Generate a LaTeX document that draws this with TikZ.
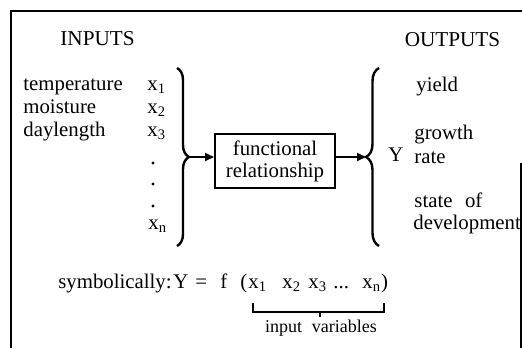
\documentclass[tikz,border=0pt]{standalone}
\usepackage{fontspec}
\setmainfont{Liberation Serif}
\usetikzlibrary{arrows.meta,decorations.pathreplacing}
\begin{document}
\begin{tikzpicture}[x=0.5pt,y=-0.5pt,
  txt/.style={anchor=base west,inner sep=0pt,font=\fontsize{10.4}{12}\selectfont},
  head/.style={inner sep=0pt,font=\fontsize{10.6}{12}\selectfont},
  small/.style={inner sep=0pt,anchor=base,font=\fontsize{9}{11}\selectfont},
  bracestyle/.style={decorate,decoration={brace,amplitude=#1},line width=1.2pt},
  arr/.style={-{Triangle[length=4.5pt,width=4pt]},line width=1pt},
  fbox/.style={draw,line width=1pt,minimum width=60pt,minimum height=27pt,align=center,inner sep=0pt,font=\fontsize{10.4}{11}\selectfont},
  dotmark/.style={circle,fill,inner sep=0pt,minimum size=1.6pt}
]
\useasboundingbox (0,0) rectangle (522,348);
% frame
\draw[line width=1pt] (11,348) -- (11,11) -- (522,11);
\draw[line width=1pt] (520.5,163) -- (520.5,348);
% headings
\node[head] (in) at (97.5,38.5) {INPUTS};
\node[head] (out) at (452.5,40) {OUTPUTS};
% inputs
\node[txt] (t1) at (23,90) {temperature};
\node[txt] (t2) at (23,113) {moisture};
\node[txt] (t3) at (23,136) {daylength};
\node[txt] (x1) at (147,90) {x\textsubscript{1}};
\node[txt] (x2) at (147,113) {x\textsubscript{2}};
\node[txt] (x3) at (147,136) {x\textsubscript{3}};
\node[dotmark] (d1) at (153,163) {};
\node[dotmark] (d2) at (153,184) {};
\node[dotmark] (d3) at (153,206) {};
\node[txt] (xn) at (148,229) {x\textsubscript{n}};
% braces
\coordinate (lbt) at (177,68);
\coordinate (lbb) at (177,246);
\draw[bracestyle=6pt] (lbt) -- (lbb);
\coordinate (ltip) at (189,157);
\coordinate (rbt) at (379,68);
\coordinate (rbb) at (379,246);
\draw[bracestyle=6.5pt] (rbb) -- (rbt);
\coordinate (rtip) at (366,157);
% box
\node[fbox] (box) at (275,161) {functional\\relationship};
\draw[arr] (ltip) -- (ltip -| box.west);
\draw[arr] (box.east |- rtip) -- (rtip);
% outputs
\node[txt] (Y) at (388,161) {Y};
\node[txt] (o1) at (416,91) {yield};
\node[txt] (o2) at (414,139) {growth};
\node[txt] (o3) at (414,163) {rate};
\node[txt] (o4) at (414,207) {state\hspace{0.6em}of};
\node[txt] (o5) at (413,229) {development};
% formula
\node[txt] (sym) at (58,288) {symbolically:};
\node[txt] (fY) at (173,288) {Y};
\node[txt] (feq) at (195,288) {=};
\node[txt] (ff) at (220,288) {f};
\node[txt] (fp) at (240,288) {(};
\node[txt] (f1) at (248,288) {x\textsubscript{1}};
\node[txt] (f2) at (282,288) {x\textsubscript{2}};
\node[txt] (f3) at (308,288) {x\textsubscript{3}};
\node[txt] (fd) at (333,288) {...};
\node[txt] (fn) at (362,288) {x\textsubscript{n})};
% bottom bracket
\draw[line width=1.1pt] (253,303) -- (253,312) -- (384,312) -- (384,303);
\draw[line width=1.1pt] (320,312) -- (320,317);
\node[small] (iv) at (321,332) {input\hspace{0.55em}variables};
\end{tikzpicture}
\end{document}
